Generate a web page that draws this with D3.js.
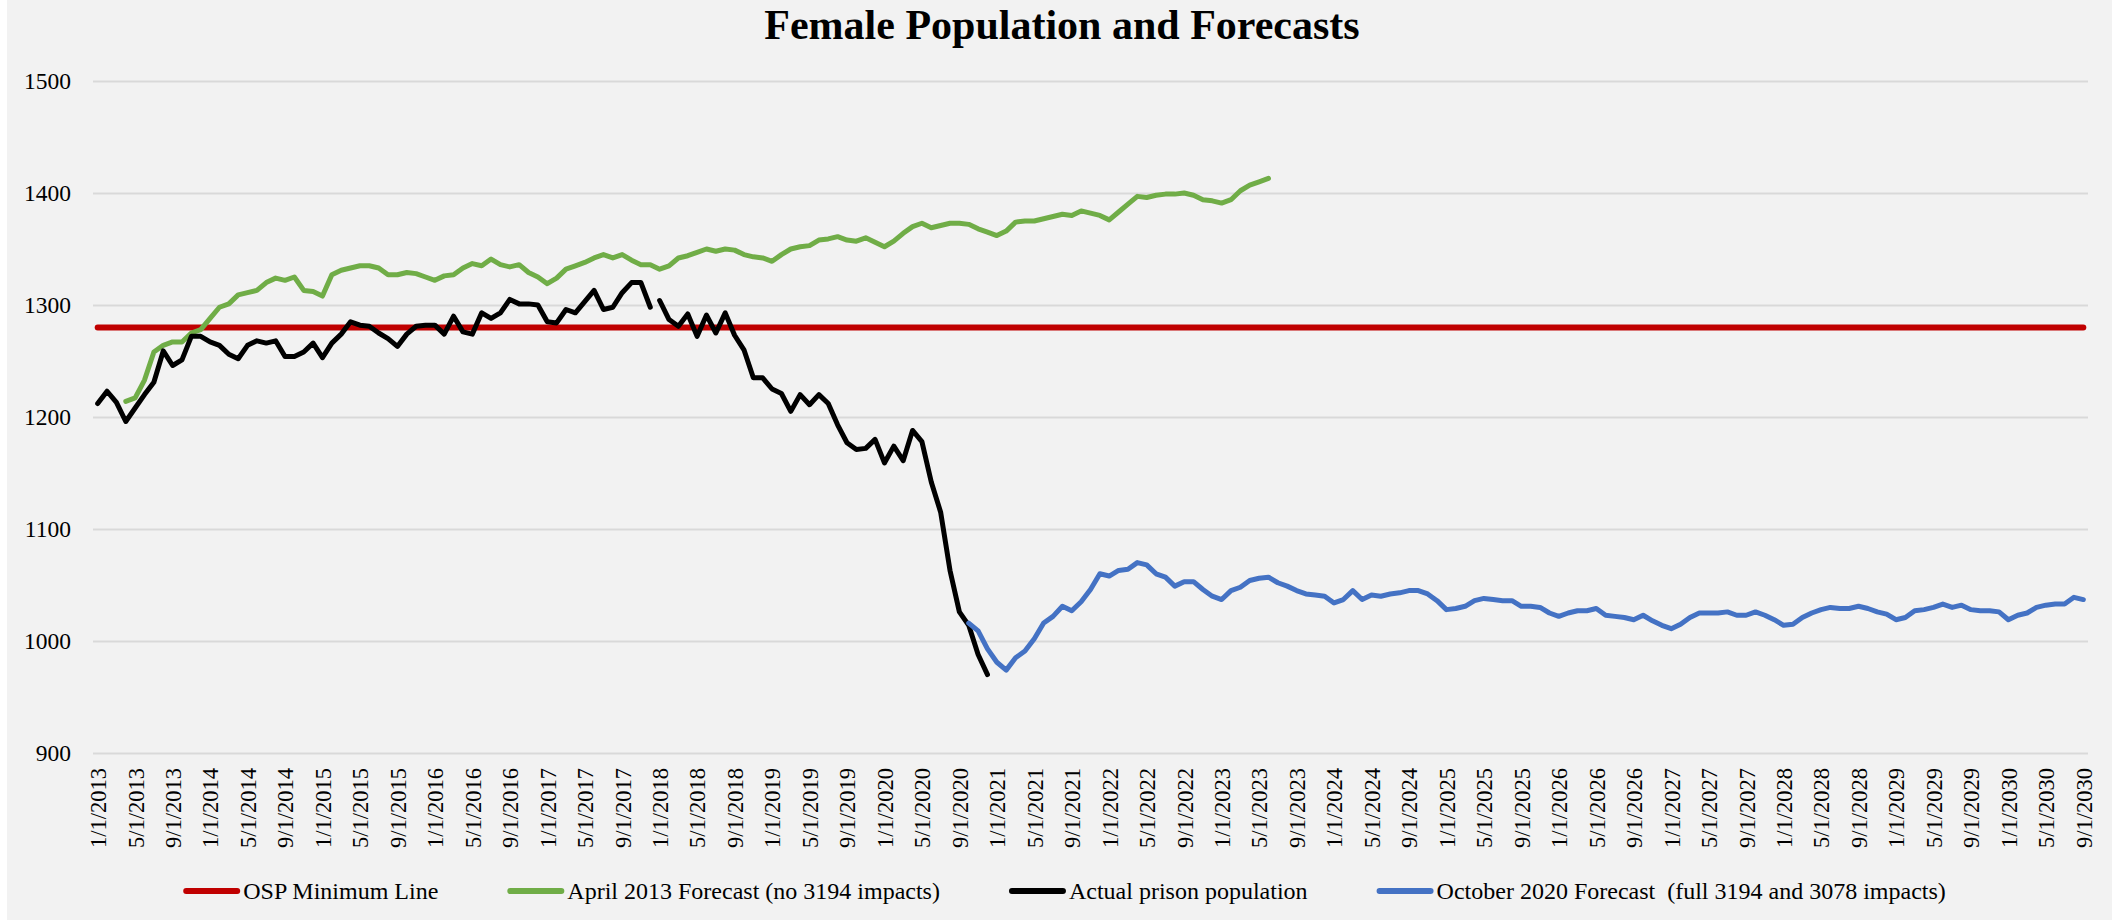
<!DOCTYPE html>
<html>
<head>
<meta charset="utf-8">
<title>Female Population and Forecasts</title>
<script src="https://cdn.jsdelivr.net/npm/d3@7"></script>
<style>
  html, body { margin: 0; padding: 0; background: #fff; }
  svg { display: block; font-family: "Liberation Serif", "Times New Roman", serif; }
</style>
</head>
<body>
<svg id="chart" width="2112" height="920"></svg>
<script>
"use strict";

// Category axis: one entry per month, 1/1/2013 .. 9/1/2030
const monthFormat = d3.timeFormat("%-m/%-d/%Y");
const categories = d3.timeMonth.range(new Date(2013, 0, 1), new Date(2030, 8, 2)).map(monthFormat);
const tickLabels = categories.filter((d, i) => i % 4 === 0);
const yTicks = [900, 1000, 1100, 1200, 1300, 1400, 1500];

const ospMinimum = 1280;

// Actual prison population, from 1/1/2013; line is broken before 1/1/2018
const actualStart = 0;
const actualBreak = 60;
const actual = [
  1212, 1223, 1213, 1196, 1208, 1220, 1231, 1259, 1246, 1251, 1272, 1272,
  1267, 1264, 1256, 1252, 1264, 1268, 1266, 1268, 1254, 1254, 1258, 1266,
  1253, 1266, 1274, 1285, 1282, 1281, 1275, 1270, 1263, 1274, 1281, 1282,
  1282, 1274, 1290, 1276, 1274, 1293, 1288, 1293, 1305, 1301, 1301, 1300,
  1285, 1284, 1296, 1293, 1303, 1313, 1296, 1298, 1311, 1320, 1320, 1298,
  1304, 1287, 1281, 1292, 1272, 1291, 1275, 1293, 1273, 1260, 1235, 1235,
  1225, 1221, 1205, 1220, 1211, 1220, 1212, 1193, 1177, 1171, 1172, 1180,
  1159, 1174, 1161, 1188, 1178, 1142, 1115, 1063, 1026, 1014, 988, 970
];

// April 2013 forecast (no 3194 impacts), from 4/1/2013
const april2013Start = 3;
const april2013 = [
  1214, 1217, 1233, 1258, 1264, 1267, 1267, 1275, 1278,
  1288, 1298, 1301, 1309, 1311, 1313, 1320, 1324, 1322, 1325, 1313, 1312,
  1308, 1327, 1331, 1333, 1335, 1335, 1333, 1327, 1327, 1329, 1328, 1325,
  1322, 1326, 1327, 1333, 1337, 1335, 1341, 1336, 1334, 1336, 1329, 1325,
  1319, 1324, 1332, 1335, 1338, 1342, 1345, 1342, 1345, 1340, 1336, 1336,
  1332, 1335, 1342, 1344, 1347, 1350, 1348, 1350, 1349, 1345, 1343, 1342,
  1339, 1345, 1350, 1352, 1353, 1358, 1359, 1361, 1358, 1357, 1360, 1356,
  1352, 1357, 1364, 1370, 1373, 1369, 1371, 1373, 1373, 1372, 1368, 1365,
  1362, 1366, 1374, 1375, 1375, 1377, 1379, 1381, 1380, 1384, 1382, 1380,
  1376, 1383, 1390, 1397, 1396, 1398, 1399, 1399, 1400, 1398, 1394, 1393,
  1391, 1394, 1402, 1407, 1410, 1413
];

// October 2020 forecast (full 3194 and 3078 impacts), from 10/1/2020
const october2020Start = 93;
const october2020 = [
  1016, 1009, 993,
  981, 974, 985, 991, 1002, 1016, 1022, 1031, 1027, 1035, 1046, 1060,
  1058, 1063, 1064, 1070, 1068, 1060, 1057, 1049, 1053, 1053, 1046, 1040,
  1037, 1045, 1048, 1054, 1056, 1057, 1052, 1049, 1045, 1042, 1041, 1040,
  1034, 1037, 1045, 1037, 1041, 1040, 1042, 1043, 1045, 1045, 1042, 1036,
  1028, 1029, 1031, 1036, 1038, 1037, 1036, 1036, 1031, 1031, 1030, 1025,
  1022, 1025, 1027, 1027, 1029, 1023, 1022, 1021, 1019, 1023, 1018, 1014,
  1011, 1015, 1021, 1025, 1025, 1025, 1026, 1023, 1023, 1026, 1023, 1019,
  1014, 1015, 1021, 1025, 1028, 1030, 1029, 1029, 1031, 1029, 1026, 1024,
  1019, 1021, 1027, 1028, 1030, 1033, 1030, 1032, 1028, 1027, 1027, 1026,
  1019, 1023, 1025, 1030, 1032, 1033, 1033, 1039, 1037
];

const legendItems = [
  {name: "OSP Minimum Line", color: "#c00000"},
  {name: "April 2013 Forecast (no 3194 impacts)", color: "#70ad47"},
  {name: "Actual prison population", color: "#000000"},
  {name: "October 2020 Forecast  (full 3194 and 3078 impacts)", color: "#4472c4"}
];

const svg = d3.select("#chart");
const width = 2112, height = 920;
const plot = {left: 93, right: 2088, top: 81, bottom: 753};

svg.append("rect")
  .attr("x", 7).attr("y", 0)
  .attr("width", width - 7).attr("height", height)
  .attr("fill", "#f2f2f2");

const x = d3.scalePoint()
  .domain(categories)
  .range([plot.left, plot.right])
  .padding(0.5);

const y = d3.scaleLinear()
  .domain([900, 1500])
  .range([plot.bottom, plot.top]);

// gridlines + y labels
const yAxis = svg.append("g")
  .attr("transform", `translate(${plot.left},0)`)
  .call(d3.axisLeft(y).tickValues(yTicks).tickSize(-(plot.right - plot.left)).tickPadding(22).tickFormat(d3.format("d")));
yAxis.select(".domain").remove();
yAxis.selectAll(".tick line").attr("stroke", "#d9d9d9").attr("stroke-width", 2);
yAxis.selectAll(".tick text").attr("font-size", 23.5).attr("fill", "#000").attr("font-family", "Liberation Serif");

// month labels
const xAxis = svg.append("g")
  .attr("transform", `translate(0,${plot.bottom})`)
  .call(d3.axisBottom(x).tickValues(tickLabels).tickSize(0));
xAxis.select(".domain").remove();
xAxis.selectAll(".tick text")
  .attr("transform", "rotate(-90)")
  .attr("x", -15).attr("y", 0).attr("dy", "0.35em")
  .attr("text-anchor", "end")
  .attr("font-size", 22.5).attr("fill", "#000").attr("font-family", "Liberation Serif");

function toPoints(values, start) {
  return values.map((v, i) => ({cat: categories[start + i], v}));
}

const line = d3.line()
  .x(d => x(d.cat))
  .y(d => y(d.v));

function drawLine(points, color, w) {
  svg.append("path")
    .datum(points)
    .attr("d", line)
    .attr("fill", "none")
    .attr("stroke", color)
    .attr("stroke-width", w)
    .attr("stroke-linejoin", "round")
    .attr("stroke-linecap", "round");
}

drawLine(categories.map(cat => ({cat, v: ospMinimum})), legendItems[0].color, 6);
drawLine(toPoints(april2013, april2013Start), legendItems[1].color, 5);
drawLine(toPoints(actual.slice(0, actualBreak), actualStart), legendItems[2].color, 5);
drawLine(toPoints(actual.slice(actualBreak), actualStart + actualBreak), legendItems[2].color, 5);
drawLine(toPoints(october2020, october2020Start), legendItems[3].color, 5);

// title
svg.append("text")
  .attr("x", 1062).attr("y", 39)
  .attr("text-anchor", "middle")
  .attr("font-size", 42).attr("font-weight", "bold")
  .attr("fill", "#000")
  .text("Female Population and Forecasts");

// legend, laid out from measured text widths
const legend = svg.append("g");
const sampleW = 51, sampleGap = 6, itemGap = 72, legendY = 899;
const entries = legend.selectAll("g").data(legendItems).enter().append("g");
entries.append("line")
  .attr("x1", 0).attr("x2", sampleW)
  .attr("y1", -8).attr("y2", -8)
  .attr("stroke", d => d.color)
  .attr("stroke-width", 6)
  .attr("stroke-linecap", "round");
entries.append("text")
  .attr("x", sampleW + sampleGap)
  .attr("font-size", 24).attr("fill", "#000")
  .style("white-space", "pre")
  .attr("xml:space", "preserve")
  .text(d => d.name);

let offset = 0;
const widths = [];
entries.each(function () {
  const w = sampleW + sampleGap + d3.select(this).select("text").node().getComputedTextLength();
  widths.push(offset);
  offset += w + itemGap;
});
const total = offset - itemGap;
const legendLeft = 1066 - total / 2;
entries.attr("transform", (d, i) => `translate(${legendLeft + widths[i]},${legendY})`);
</script>
</body>
</html>
